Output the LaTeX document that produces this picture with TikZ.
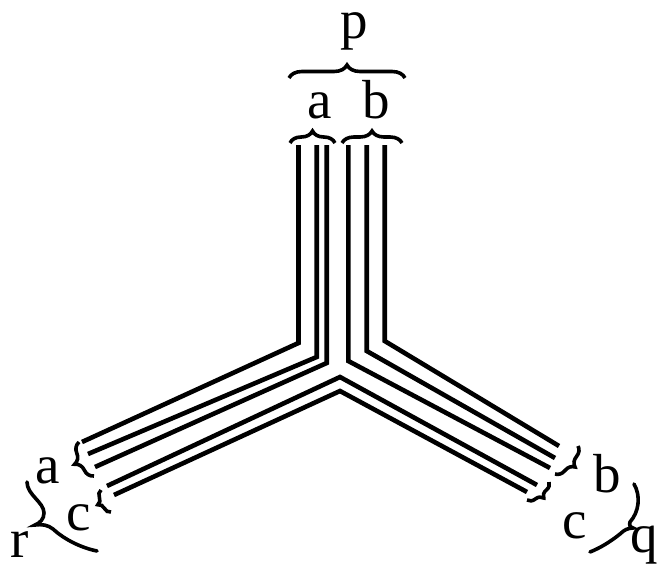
\documentclass[tikz,border=0pt]{standalone}
\usepackage{fontspec}
\setmainfont{Liberation Serif}
\usetikzlibrary{decorations.pathreplacing}
\begin{document}
\begin{tikzpicture}[x=1pt,y=-1pt,
  strand/.style={line width=4.6pt},
  brc/.style={line width=3.6pt, decorate, decoration={brace, amplitude=#1}},
  brc/.default=11pt,
  curlybr/.style={line width=3.6pt, line cap=round},
  lbl/.style={font=\fontsize{55}{55}\selectfont, inner sep=0pt, anchor=base, text height=0.5em, text depth=0.2em}]
\useasboundingbox (0,0) rectangle (658,575);
% strands of a (top to left)
\draw[strand] (298.5,145) -- (298.5,343) -- (82,442);
\draw[strand] (316.7,145) -- (316.7,357) -- (88,454);
\draw[strand] (326.7,145) -- (326.7,363) -- (95,467);
% strands of b (top to right)
\draw[strand] (384.7,145) -- (384.7,341) -- (559,446);
\draw[strand] (366.7,145) -- (366.7,351) -- (555,458);
\draw[strand] (348.3,145) -- (348.3,361) -- (550,468);
% strands of c (left to right)
\draw[strand] (107,486) -- (340,377) -- (537,485);
\draw[strand] (114,495) -- (340,391) -- (527,492);
% braces
\draw[brc=13pt] (289,78) -- (405,78);
\draw[brc=12pt] (290,143) -- (335,143);
\draw[brc=12pt] (342,143) -- (402,143);
\draw[brc=13pt] (94,476) -- (79,442);
\draw[brc=9pt] (111,512) -- (101,490);
\draw[brc=11pt] (578,446) -- (555,474);
\draw[brc=9pt] (549,482) -- (527,500);
% r brace
\draw[curlybr] (27,482) .. controls (27,495) and (44,502) .. (44,513)
  .. controls (44,519) and (40,523) .. (35,525)
  .. controls (42,524) and (48,525) .. (53,529)
  .. controls (65,540) and (82,548) .. (97,551);
% q brace
\draw[curlybr] (634,484) .. controls (641,496) and (639,512) .. (630,522)
  .. controls (629,525) and (630,527) .. (633,528)
  .. controls (628,528) and (624,530) .. (620,534)
  .. controls (610,542) and (600,548) .. (590,552);
% labels
\node[lbl] (p) at (354,39) {p};
\node[lbl] (at) at (320,118) {a};
\node[lbl] (bt) at (376,118) {b};
\node[lbl] (al) at (48,483) {a};
\node[lbl] (cl) at (79,530) {c};
\node[lbl] (r) at (20,557) {r};
\node[lbl] (br) at (607,492) {b};
\node[lbl] (cr) at (575,538) {c};
\node[lbl] (q) at (644,552) {q};
\end{tikzpicture}
\end{document}
